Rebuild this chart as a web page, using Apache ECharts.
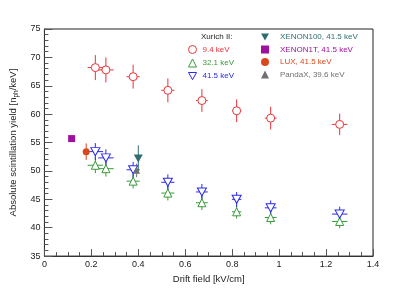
<!DOCTYPE html>
<html><head><meta charset="utf-8">
<script src="https://cdn.jsdelivr.net/npm/echarts@6/dist/echarts.min.js"></script>
<style>html,body{margin:0;padding:0;background:#fff}#c{width:415px;height:289px}</style>
</head><body><div id="c"></div>
<script>
// Xurich II data (drift field in kV/cm)
const fields = [0.217, 0.262, 0.378, 0.526, 0.671, 0.819, 0.964, 1.258];
const fieldErr = [0.033, 0.033, 0.028, 0.028, 0.025, 0.02, 0.025, 0.033];
const yield94 = [68.2, 67.8, 66.6, 64.2, 62.4, 60.6, 59.3, 58.2];
const err94 = [2.2, 2.2, 2.1, 2.1, 2.0, 2.0, 2.0, 1.9];
const yield321 = [51.0, 50.4, 48.2, 46.1, 44.4, 42.8, 41.8, 41.1];
const err321 = [1.4, 1.4, 1.3, 1.3, 1.3, 1.2, 1.2, 1.2];
const yield415 = [53.4, 52.3, 50.2, 48.0, 46.3, 45.0, 43.5, 42.4];
const err415 = [1.5, 1.5, 1.4, 1.4, 1.4, 1.3, 1.3, 1.3];
// other experiments: [field, yield, yieldErr]
const xenon100 = [0.40, 52.2, 2.3];
const xenon1t = [0.116, 55.7, 0];
const lux = [0.178, 53.4, 1.45];
const pandax = [0.393, 50.1, 1.2];
const xTicks = [0, 0.2, 0.4, 0.6, 0.8, 1, 1.2, 1.4];
const yTicks = [35, 40, 45, 50, 55, 60, 65, 70, 75];

const RED = '#e8333a', GREEN = '#3a9a3a', BLUE = '#2a2af0', TEAL = '#2e6e6e', PURPLE = '#a0109e', ORANGE = '#d9471a', GREY = '#707070';
const FONT = 'Liberation Sans';

function errData(xs, ys, xe, ye) { return xs.map((x, i) => [x, ys[i], xe ? xe[i] : 0, ye[i]]); }
function errSeries(data, color) {
  return {
    type: 'custom', silent: true, z: 2,
    renderItem: function (params, api) {
      const x = api.value(0), y = api.value(1), xe = api.value(2), ye = api.value(3);
      const children = [];
      if (ye > 0) {
        const a = api.coord([x, y - ye]), b = api.coord([x, y + ye]);
        children.push({ type: 'line', shape: { x1: a[0], y1: a[1], x2: b[0], y2: b[1] }, style: { stroke: color, lineWidth: 1 } });
      }
      if (xe > 0) {
        const a = api.coord([x - xe, y]), b = api.coord([x + xe, y]);
        children.push({ type: 'line', shape: { x1: a[0], y1: a[1], x2: b[0], y2: b[1] }, style: { stroke: color, lineWidth: 1 } });
      }
      return { type: 'group', children: children };
    },
    data: data
  };
}
const DOWN = 'path://M0,0 L10,0 L5,9 Z';
function pts(xs, ys) { return xs.map((x, i) => [x, ys[i]]); }

const chart = echarts.init(document.getElementById('c'), null, { renderer: 'canvas' });
chart.setOption({
  animation: false,
  textStyle: { fontFamily: FONT },
  grid: { left: 42, right: 42, top: 29, bottom: 30, show: true, borderColor: '#222', borderWidth: 1, backgroundColor: 'transparent' },
  xAxis: {
    type: 'value', min: 0, max: 1.4, interval: 0.2,
    name: 'Drift field [kV/cm]', nameLocation: 'middle', nameGap: 14,
    nameTextStyle: { fontSize: 9.5, color: '#222', fontFamily: FONT },
    axisLine: { lineStyle: { color: '#333' } },
    axisTick: { inside: true, length: 7, lineStyle: { color: '#555' } },
    minorTick: { show: true, splitNumber: 4, length: 4, lineStyle: { color: '#555' } },
    splitLine: { show: false },
    axisLabel: { fontSize: 9, color: '#222', margin: 4, fontFamily: FONT, formatter: v => String(+v.toFixed(1)) }
  },
  yAxis: {
    type: 'value', min: 35, max: 75, interval: 5,
    name: '{a|Absolute scintillation yield [n}{s|ph}{a|/keV]}', nameLocation: 'middle', nameGap: 24,
    nameTextStyle: { color: '#222', fontFamily: FONT, rich: { a: { fontSize: 9.5, color: '#222', fontFamily: FONT }, s: { fontSize: 6.5, color: '#222', fontFamily: FONT, verticalAlign: 'bottom', padding: [6, 0, 0, 0] } } },
    axisLine: { lineStyle: { color: '#333' } },
    axisTick: { inside: true, length: 8, lineStyle: { color: '#555' } },
    minorTick: { show: true, splitNumber: 5, length: 4, lineStyle: { color: '#555' } },
    splitLine: { show: false },
    axisLabel: { fontSize: 9, color: '#222', margin: 4, fontFamily: FONT }
  },
  legend: [
    {
      orient: 'vertical', left: 188, top: 45, padding: 0, itemWidth: 8, itemHeight: 8, itemGap: 4.5,
      itemStyle: { borderWidth: 1 },
      textStyle: { fontSize: 8, fontFamily: FONT, padding: [0, 0, 0, 1] },
      data: [
        { name: '9.4 keV', textStyle: { color: RED } },
        { name: '32.1 keV', textStyle: { color: GREEN } },
        { name: '41.5 keV', textStyle: { color: BLUE } }
      ]
    },
    {
      orient: 'vertical', left: 261, top: 33, padding: 0, itemWidth: 8, itemHeight: 8, itemGap: 4.5,
      itemStyle: { borderWidth: 1 },
      textStyle: { fontSize: 8, fontFamily: FONT, padding: [0, 0, 0, 6] },
      data: [
        { name: 'XENON100, 41.5 keV', textStyle: { color: TEAL } },
        { name: 'XENON1T, 41.5 keV', textStyle: { color: PURPLE } },
        { name: 'LUX, 41.5 keV', textStyle: { color: ORANGE } },
        { name: 'PandaX, 39.6 keV', textStyle: { color: GREY } }
      ]
    }
  ],
  graphic: [
    { type: 'text', left: 201, top: 33, style: { text: 'Xurich II:', fontSize: 8, fill: '#222', fontFamily: FONT } }
  ],
  series: [
    errSeries(errData(fields, yield94, fieldErr, err94), RED),
    errSeries(errData(fields, yield321, fieldErr, err321), GREEN),
    errSeries(errData(fields, yield415, fieldErr, err415), BLUE),
    errSeries([[xenon100[0], xenon100[1], 0, xenon100[2]]], TEAL),
    errSeries([[lux[0], lux[1], 0.008, lux[2]]], ORANGE),
    errSeries([[pandax[0], pandax[1], 0, pandax[2]]], GREY),
    { name: '9.4 keV', type: 'scatter', z: 3, symbol: 'circle', symbolSize: 8, itemStyle: { color: '#fff', borderColor: RED, borderWidth: 1, opacity: 1 }, data: pts(fields, yield94) },
    { name: '32.1 keV', type: 'scatter', z: 3, symbol: 'triangle', symbolSize: 8, itemStyle: { color: '#fff', borderColor: GREEN, borderWidth: 1, opacity: 1 }, data: pts(fields, yield321) },
    { name: '41.5 keV', type: 'scatter', z: 3, symbol: DOWN, symbolSize: [9, 8], itemStyle: { color: '#fff', borderColor: BLUE, borderWidth: 1, opacity: 1 }, data: pts(fields, yield415) },
    { name: 'XENON100, 41.5 keV', type: 'scatter', z: 4, symbol: DOWN, symbolSize: [9, 8], itemStyle: { color: TEAL, borderWidth: 0, opacity: 1 }, data: [[xenon100[0], xenon100[1]]] },
    { name: 'XENON1T, 41.5 keV', type: 'scatter', z: 4, symbol: 'rect', symbolSize: 7, itemStyle: { color: PURPLE, borderWidth: 0, opacity: 1 }, data: [[xenon1t[0], xenon1t[1]]] },
    { name: 'LUX, 41.5 keV', type: 'scatter', z: 4, symbol: 'circle', symbolSize: 7, itemStyle: { color: ORANGE, borderWidth: 0, opacity: 1 }, data: [[lux[0], lux[1]]] },
    { name: 'PandaX, 39.6 keV', type: 'scatter', z: 4, symbol: 'triangle', symbolSize: 7, itemStyle: { color: GREY, borderWidth: 0, opacity: 1 }, data: [[pandax[0], pandax[1]]] }
  ]
});
</script>
</body></html>
